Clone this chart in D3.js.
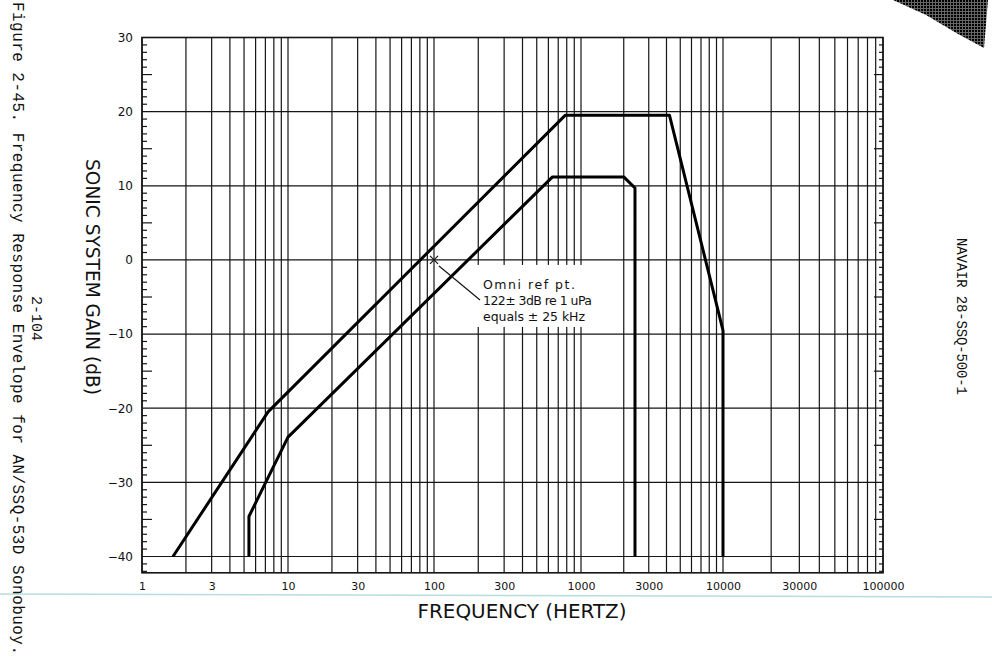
<!DOCTYPE html>
<html><head><meta charset="utf-8">
<script src="https://cdn.jsdelivr.net/npm/d3@7/dist/d3.min.js"></script>
<style>body{margin:0;background:#fff}svg{display:block}</style>
</head><body>
<svg id="chart" width="992" height="661"></svg>
<script>
// ---- data ----
const decades = [1, 10, 100, 1000, 10000, 100000];
const xTickValues = [1, 3, 10, 30, 100, 300, 1000, 3000, 10000, 30000, 100000];
const xTickLabels = ["1", "3", "10", "30", "100", "300", "1000", "3000", "10000", "30000", "100000"];
const yTickValues = [30, 20, 10, 0, -10, -20, -30, -40];
const yTickLabels = ["30", "20", "10", "0", "\u221210", "\u221220", "\u221230", "\u221240"];
const outerFreq = [1.63, 7.3, 780, 4200, 10000, 10000];
const outerGain = [-40, -20.5, 19.5, 19.5, -9.5, -40];
const innerFreq = [5.4, 5.4, 10, 640, 2000, 2400, 2400];
const innerGain = [-40, -34.6, -23.9, 11.2, 11.2, 9.7, -40];
const refFreq = [100];
const refGain = [0];
const annotationLines = ["Omni ref pt.", "122\u00b1 3dB re 1 uPa", "equals \u00b1 25 kHz"];
const yLabel = "SONIC SYSTEM GAIN (dB)";
const xLabel = "FREQUENCY (HERTZ)";
const captionText = "Figure 2-45.  Frequency Response Envelope for AN/SSQ-53D Sonobuoy.";
const pageText = "2-104";
const docText = "NAVAIR 28-SSQ-500-1";

// ---- scales ----
const svg = d3.select("#chart");
const x = d3.scaleLog().domain(decades).range([142, 288, 434, 581, 723, 883]);
const y = d3.scaleLinear().domain([-40, 30]).range([556.5, 37.5]);
const yBottom = -42.2;
const X0 = x(1), X1 = x(100000), Y0 = y(30), Y1 = y(yBottom);
const ink = "#151515";

// scan artifacts
const defs = svg.append("defs");
const pat = defs.append("pattern").attr("id", "dither").attr("width", 3).attr("height", 3)
  .attr("patternUnits", "userSpaceOnUse");
pat.append("rect").attr("width", 3).attr("height", 3).attr("fill", "#666");
pat.append("rect").attr("width", 2).attr("height", 2).attr("fill", "#000");
svg.append("polygon").attr("points", "893,0 988,0 984,48 958,34 926,15")
  .attr("fill", "url(#dither)");
svg.append("line").attr("x1", 0).attr("x2", 992).attr("y1", 594).attr("y2", 597)
  .attr("stroke", "#b5dde0").attr("stroke-width", 1.6);

// ---- grid ----
const gridFreqs = [];
decades.slice(0, -1).forEach(d => { for (let m = 1; m < 10; m++) gridFreqs.push(d * m); });
gridFreqs.push(100000);
const g = svg.append("g");
g.selectAll("line.v").data(gridFreqs).join("line").attr("class", "v")
  .attr("x1", d => x(d)).attr("x2", d => x(d)).attr("y1", Y0).attr("y2", Y1)
  .attr("stroke", ink).attr("stroke-width", 1.2);
g.selectAll("line.h").data(yTickValues).join("line").attr("class", "h")
  .attr("x1", X0).attr("x2", X1).attr("y1", d => y(d)).attr("y2", d => y(d))
  .attr("stroke", ink).attr("stroke-width", 1.2);

// minor ticks on left and right
const minor = d3.range(-42, 31, 1).filter(v => v % 10 !== 0);
g.selectAll("line.ml").data(minor).join("line").attr("class", "ml")
  .attr("x1", X0).attr("x2", d => X0 + (d % 5 === 0 ? 10 : 5))
  .attr("y1", d => y(d)).attr("y2", d => y(d)).attr("stroke", ink).attr("stroke-width", 1.2);
g.selectAll("line.mr").data(minor).join("line").attr("class", "mr")
  .attr("x1", X1).attr("x2", d => X1 - (d % 5 === 0 ? 9 : 4))
  .attr("y1", d => y(d)).attr("y2", d => y(d)).attr("stroke", ink).attr("stroke-width", 1.2);

// frame
svg.append("rect").attr("x", X0).attr("y", Y0).attr("width", X1 - X0).attr("height", Y1 - Y0)
  .attr("fill", "none").attr("stroke", ink).attr("stroke-width", 1.6);

// ---- axes ----
const xAxis = svg.append("g").attr("transform", `translate(0,${Y1})`)
  .call(d3.axisBottom(x).tickValues(xTickValues).tickSize(0).tickPadding(9)
    .tickFormat((d, i) => xTickLabels[i]));
xAxis.select(".domain").remove();
xAxis.selectAll("text").attr("font-family", "DejaVu Sans").attr("font-size", 11).attr("fill", "#111");

const yAxis = svg.append("g").attr("transform", `translate(${X0},0)`)
  .call(d3.axisLeft(y).tickValues(yTickValues).tickSize(0).tickPadding(9)
    .tickFormat((d, i) => yTickLabels[i]));
yAxis.select(".domain").remove();
yAxis.selectAll("text").attr("font-family", "DejaVu Sans").attr("font-size", 12).attr("fill", "#111");

// ---- curves ----
const line = d3.line().x(d => x(d[0])).y(d => y(d[1]));
svg.append("path").datum(d3.zip(outerFreq, outerGain)).attr("d", line)
  .attr("fill", "none").attr("stroke", "#000").attr("stroke-width", 3).attr("stroke-linejoin", "round");
svg.append("path").datum(d3.zip(innerFreq, innerGain)).attr("d", line)
  .attr("fill", "none").attr("stroke", "#000").attr("stroke-width", 3).attr("stroke-linejoin", "round");

// ---- annotation ----
const rx = x(refFreq[0]), ry = y(refGain[0]);
svg.append("rect").attr("x", rx + 38).attr("y", ry + 5).attr("width", 125).attr("height", 62).attr("fill", "#fff");
svg.append("path").attr("d", `M${rx-4},${ry-4}L${rx+4},${ry+4}M${rx-4},${ry+4}L${rx+4},${ry-4}`)
  .attr("stroke", ink).attr("stroke-width", 1.2);
svg.append("line").attr("x1", rx + 5).attr("y1", ry + 6).attr("x2", rx + 46).attr("y2", ry + 40)
  .attr("stroke", ink).attr("stroke-width", 1.2);
const lens = [92, 109, 102];
svg.append("g").selectAll("text").data(annotationLines).join("text")
  .attr("x", rx + 49).attr("y", (d, i) => ry + 29 + i * 16)
  .attr("font-family", "DejaVu Sans").attr("font-size", 12.5).attr("fill", "#111")
  .attr("textLength", (d, i) => lens[i]).attr("lengthAdjust", "spacing")
  .text(d => d);

// ---- titles ----
svg.append("text").attr("transform", "translate(86,277) rotate(90)")
  .attr("text-anchor", "middle").attr("font-family", "DejaVu Sans").attr("font-size", 20)
  .attr("textLength", 236).attr("lengthAdjust", "spacingAndGlyphs").attr("fill", "#111").text(yLabel);
svg.append("text").attr("x", 522).attr("y", 618)
  .attr("text-anchor", "middle").attr("font-family", "DejaVu Sans").attr("font-size", 20)
  .attr("textLength", 209).attr("lengthAdjust", "spacingAndGlyphs").attr("fill", "#111").text(xLabel);
svg.append("text").attr("transform", "translate(13,2) rotate(90)")
  .attr("font-family", "Liberation Mono").attr("font-size", 16)
  .attr("textLength", 653).attr("lengthAdjust", "spacing").attr("fill", "#111").text(captionText);
svg.append("text").attr("transform", "translate(32,296) rotate(90)")
  .attr("font-family", "Liberation Mono").attr("font-size", 15).attr("fill", "#111").text(pageText);
svg.append("text").attr("transform", "translate(957,238) rotate(90)")
  .attr("font-family", "Liberation Mono").attr("font-size", 14)
  .attr("textLength", 157).attr("lengthAdjust", "spacing").attr("fill", "#111").text(docText);
</script>
</body></html>
